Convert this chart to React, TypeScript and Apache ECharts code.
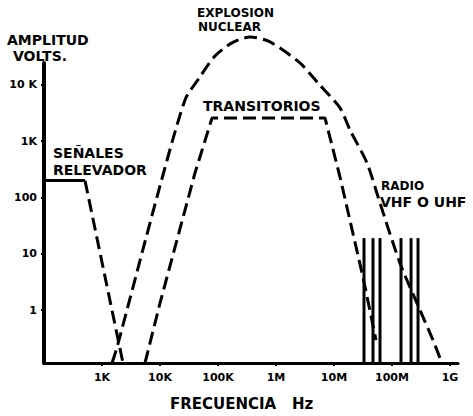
import React, { useEffect, useRef } from 'react';
import * as echarts from 'echarts';

// Axis ticks (log10 positions) and their labels
const xTickValues = [3, 4, 5, 6, 7, 8, 9];
const xTickLabels = ['1K', '10K', '100K', '1M', '10M', '100M', '1G'];
const yTickValues = [0, 1, 2, 3, 4];
const yTickLabels = ['1', '10', '100', '1K', '10 K'];

// Frequency in Hz, amplitude in volts
const explosionFreq = [1490, 1820, 8870, 27000, 48900, 88800, 174000, 356000, 788000, 2.59e6, 5.3e6, 12.7e6, 18.9e6, 37.1e6, 62.1e6, 137e6, 304e6, 509e6, 673e6];
const explosionAmp = [0.115, 0.22, 102, 5410, 13900, 32800, 55800, 71300, 58100, 24600, 10800, 3900, 1580, 410, 79.8, 6.85, 1.0, 0.293, 0.14];

const transFreq = [5510, 10000, 40100, 78900, 7.0e6, 12.7e6, 31.6e6, 53e6];
const transAmp = [0.115, 1.33, 273, 2590, 2590, 231, 3.86, 0.293];

const relayFlatFreq = [100, 509];
const relayFlatAmp = [200, 200];
const relayFallFreq = [509, 2300];
const relayFallAmp = [200, 0.115];

const radioFreq = [32.9e6, 47e6, 62.1e6, 143e6, 213e6, 281e6];
const radioTopAmp = 19;
const floorAmp = 0.115;

const X_MIN = 2;
const X_MAX = 9.138;
const Y_MIN = -0.94;
const Y_MAX = 4.39;

const FONT = '"DejaVu Sans", "Liberation Sans", sans-serif';

const toLog = (f: number[], a: number[]) => f.map((v, i) => [Math.log10(v), Math.log10(a[i])]);

export default function App() {
  const ref = useRef<HTMLDivElement>(null);
  useEffect(() => {
    document.body.style.margin = '0';
    if (!ref.current) return;
    const chart = echarts.init(ref.current, null, { renderer: 'svg' });
    const dashed = { color: '#000', width: 3, type: [13, 6] as any };
    const solid = { color: '#000', width: 3, type: 'solid' as any };
    const base = { type: 'line', showSymbol: false, symbol: 'none', clip: false, silent: true };

    const radioSeries = radioFreq.map((f) => ({
      ...base,
      data: [[Math.log10(f), Math.log10(floorAmp)], [Math.log10(f), Math.log10(radioTopAmp)]],
      lineStyle: solid,
    }));

    const txt = (text: string, left: number, top: number, size: number) => ({
      type: 'text',
      left,
      top,
      style: { text, fill: '#000', font: `bold ${size}px ${FONT}`, lineHeight: size },
      silent: true,
    });

    chart.setOption({
      animation: false,
      backgroundColor: '#fff',
      grid: { left: 44, right: 15, top: 63, bottom: 53, containLabel: false, outerBoundsMode: 'none' },
      xAxis: {
        type: 'value',
        min: X_MIN,
        max: X_MAX,
        axisLine: { show: true, onZero: false, lineStyle: { color: '#000', width: 3 } },
        axisTick: { show: true, customValues: xTickValues, length: 3, lineStyle: { color: '#000', width: 2 } },
        axisLabel: {
          customValues: xTickValues,
          formatter: (v: number) => xTickLabels[xTickValues.indexOf(Math.round(v))] ?? '',
          color: '#000',
          fontWeight: 'bold',
          fontSize: 11,
          fontFamily: FONT,
          margin: 9,
        },
        splitLine: { show: false },
      },
      yAxis: {
        type: 'value',
        min: Y_MIN,
        max: Y_MAX,
        axisLine: { show: true, onZero: false, lineStyle: { color: '#000', width: 4 } },
        axisTick: { show: true, customValues: yTickValues, length: 3, lineStyle: { color: '#000', width: 2 } },
        axisLabel: {
          customValues: yTickValues,
          formatter: (v: number) => yTickLabels[yTickValues.indexOf(Math.round(v))] ?? '',
          color: '#000',
          fontWeight: 'bold',
          fontSize: 11,
          fontFamily: FONT,
          margin: 7,
        },
        splitLine: { show: false },
      },
      series: [
        { ...base, name: 'Explosión nuclear', data: toLog(explosionFreq, explosionAmp), smooth: 0.25, lineStyle: dashed },
        { ...base, name: 'Transitorios', data: toLog(transFreq, transAmp), lineStyle: dashed },
        { ...base, name: 'Señales relevador', data: toLog(relayFlatFreq, relayFlatAmp), lineStyle: solid },
        { ...base, name: 'Señales relevador caída', data: toLog(relayFallFreq, relayFallAmp), lineStyle: dashed },
        ...radioSeries,
      ],
      graphic: [
        txt('AMPLITUD', 7, 33, 14),
        txt('VOLTS.', 13, 49, 14),
        txt('EXPLOSION', 197, 7, 12),
        txt('NUCLEAR', 198, 21, 12),
        txt('TRANSITORIOS', 203, 99, 14),
        txt('SEÑALES', 53, 146, 14),
        txt('RELEVADOR', 53, 163, 14),
        txt('RADIO', 381, 180, 12),
        txt('VHF O UHF', 380, 195, 14),
        txt('FRECUENCIA   Hz', 170, 396, 15),
      ],
    });
    return () => chart.dispose();
  }, []);
  return <div ref={ref} style={{ position: 'absolute', left: 0, top: 0, width: 473, height: 416 }} />;
}
